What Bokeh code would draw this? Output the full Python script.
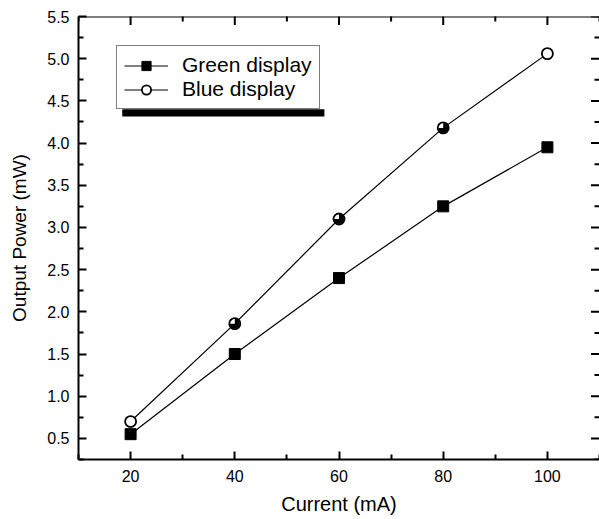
from bokeh.plotting import figure
from bokeh.models import (Range1d, FixedTicker, PrintfTickFormatter, Span,
                          Legend, LegendItem, BoxAnnotation, CDSView, IndexFilter,
                          ColumnDataSource)
from bokeh.embed import file_html
from bokeh.resources import INLINE
import math

# ---- data ----
current = [20, 40, 60, 80, 100]
green_power = [0.55, 1.50, 2.40, 3.25, 3.95]
blue_power = [0.70, 1.86, 3.10, 4.18, 5.06]

x_major = [20, 40, 60, 80, 100]
x_minor = [10, 30, 50, 70, 90, 110]
y_major = [0.5, 1.0, 1.5, 2.0, 2.5, 3.0, 3.5, 4.0, 4.5, 5.0, 5.5]
y_minor = [0.25, 0.75, 1.25, 1.75, 2.25, 2.75, 3.25, 3.75, 4.25, 4.75, 5.25]

X_LO, X_HI = 10, 110
Y_LO, Y_HI = 0.25, 5.5
FONT = "Liberation Sans"

p = figure(width=599, height=519, output_backend="svg", toolbar_location=None,
           x_range=Range1d(X_LO, X_HI), y_range=Range1d(Y_LO, Y_HI),
           min_border_left=78, min_border_top=16, min_border_right=0, min_border_bottom=60,
           x_axis_label="Current (mA)", y_axis_label="Output Power (mW)")
p.grid.visible = False
p.outline_line_color = None
p.background_fill_color = "white"
p.border_fill_color = "white"


def style_axis(ax):
    ax.axis_line_width = 2
    ax.axis_line_color = "black"
    ax.major_tick_in = 8
    ax.major_tick_out = 0
    ax.minor_tick_in = 5
    ax.minor_tick_out = 0
    ax.major_tick_line_width = 2
    ax.minor_tick_line_width = 2
    ax.major_tick_line_color = "black"
    ax.minor_tick_line_color = "black"
    ax.major_label_text_font = FONT
    ax.major_label_text_font_size = "16px"
    ax.major_label_text_color = "black"
    ax.axis_label_text_font = FONT
    ax.axis_label_text_font_style = "normal"
    ax.axis_label_text_color = "black"


xa = p.xaxis[0]
xa.ticker = FixedTicker(ticks=x_major, minor_ticks=x_minor)
style_axis(xa)
xa.axis_label_text_font_size = "20px"
xa.major_label_standoff = 10
xa.axis_label_standoff = 8

ya = p.yaxis[0]
ya.ticker = FixedTicker(ticks=y_major, minor_ticks=y_minor)
ya.formatter = PrintfTickFormatter(format="%.1f")
style_axis(ya)
ya.axis_label_text_font_size = "19px"
ya.major_label_standoff = 9
ya.axis_label_standoff = 14

# top frame line (right frame edge lies outside the picture in the reference)
p.add_layout(Span(location=Y_HI, dimension="width", line_color="black", line_width=2))

# inward ticks on top and right edges (clipped by the frame to half length)
p.scatter(x=x_major, y=[Y_HI] * len(x_major), marker="dash", angle=math.pi / 2,
          size=17, line_color="black", line_width=2)
p.scatter(x=x_minor, y=[Y_HI] * len(x_minor), marker="dash", angle=math.pi / 2,
          size=10, line_color="black", line_width=2)
p.scatter(x=[X_HI] * len(y_major), y=y_major, marker="dash",
          size=17, line_color="black", line_width=2)
p.scatter(x=[X_HI] * len(y_minor), y=y_minor, marker="dash",
          size=10, line_color="black", line_width=2)

# ---- series ----
src_b = ColumnDataSource(dict(x=current, y=blue_power))
src_g = ColumnDataSource(dict(x=current, y=green_power))

gl = p.line("x", "y", source=src_g, line_color="black", line_width=1.2)
gs = p.scatter("x", "y", source=src_g, marker="square", size=11,
               fill_color="black", line_color="black")

bl = p.line("x", "y", source=src_b, line_color="black", line_width=1.2)
bs = p.scatter("x", "y", source=src_b, marker="circle", size=11,
               fill_color="white", line_color="black", line_width=1.8)
p.wedge("x", "y", source=src_b, view=CDSView(filter=IndexFilter([1, 2, 3])),
        radius=5, radius_units="screen", start_angle=math.pi, end_angle=math.pi / 2,
        fill_color="black", line_color=None)

# ---- legend with shadow ----
shadow = BoxAnnotation(left=18.4, right=57.2, bottom=4.315, top=4.40,
                       fill_color="black", fill_alpha=1.0, line_color=None)
p.add_layout(shadow)

legend = Legend(items=[LegendItem(label="Green display", renderers=[gl, gs]),
                       LegendItem(label="Blue display", renderers=[bl, bs])],
                location=(38, 350))
legend.label_text_font = FONT
legend.label_text_font_size = "21px"
legend.label_text_color = "black"
legend.border_line_color = "black"
legend.border_line_width = 1
legend.background_fill_color = "white"
legend.background_fill_alpha = 1.0
legend.padding = 7
legend.spacing = 0
legend.glyph_width = 44
legend.glyph_height = 23
legend.label_height = 23
legend.label_standoff = 14
legend.margin = 0
p.add_layout(legend, "center")

open("out.html", "w").write(file_html(p, INLINE))
